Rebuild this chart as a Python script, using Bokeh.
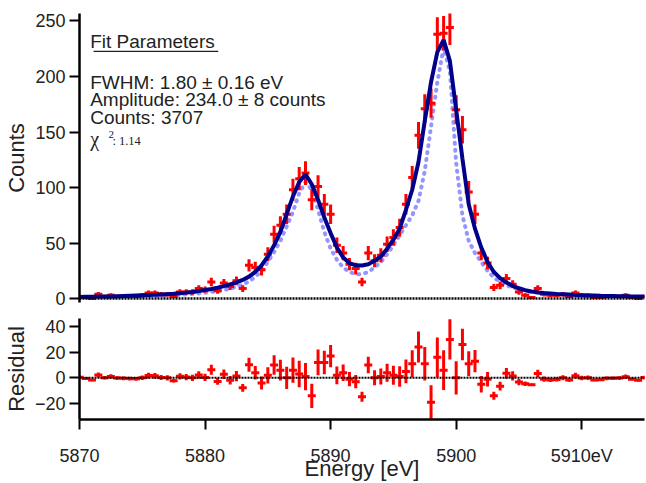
import numpy as np
from bokeh.plotting import figure
from bokeh.models import Range1d, Label, BoxAnnotation, Span, FixedTicker, ColumnDataSource
from bokeh.layouts import column
from bokeh.embed import file_html
from bokeh.resources import INLINE

# ---------------- data ----------------
energy = [5870.0, 5870.5, 5871.0, 5871.5, 5872.0, 5872.5, 5873.0, 5873.5, 5874.0, 5874.5,
          5875.0, 5875.5, 5876.0, 5876.5, 5877.0, 5877.5, 5878.0, 5878.5, 5879.0, 5879.5,
          5880.0, 5880.5, 5881.0, 5881.5, 5882.0, 5882.5, 5883.0, 5883.5, 5884.0, 5884.5,
          5885.0, 5885.5, 5886.0, 5886.5, 5887.0, 5887.5, 5888.0, 5888.5, 5889.0, 5889.5,
          5890.0, 5890.5, 5891.0, 5891.5, 5892.0, 5892.5, 5893.0, 5893.5, 5894.0, 5894.5,
          5895.0, 5895.5, 5896.0, 5896.5, 5897.0, 5897.5, 5898.0, 5898.5, 5899.0, 5899.5,
          5900.0, 5900.5, 5901.0, 5901.5, 5902.0, 5902.5, 5903.0, 5903.5, 5904.0, 5904.5,
          5905.0, 5905.5, 5906.0, 5906.5, 5907.0, 5907.5, 5908.0, 5908.5, 5909.0, 5909.5,
          5910.0, 5910.5, 5911.0, 5911.5, 5912.0, 5912.5, 5913.0, 5913.5, 5914.0, 5914.5,
          5915.0]

counts = [2, 1, 0, 4, 2, 3, 2, 2, 2, 2,
          3, 5, 5, 4, 4, 2, 6, 6, 6, 9,
          8, 15, 7, 14, 11, 16, 9, 30, 28, 26,
          40, 58, 66, 76, 98, 108, 113, 89, 101, 85,
          76, 48, 41, 31, 27, 15, 41, 34, 39, 49,
          55, 64, 85, 109, 147, 171, 176, 238, 239, 244,
          170, 152, 96, 76, 41, 32, 10, 12, 18, 13,
          6, 3, 1, 9, 4, 3, 3, 4, 2, 5,
          3, 3, 1, 1, 2, 2, 2, 3, 1, 0,
          2]

fit = [1.5, 1.6, 1.7, 1.8, 1.9, 2.0, 2.2, 2.4, 2.6, 2.8,
       3.0, 3.2, 3.4, 3.7, 4.0, 4.3, 4.8, 5.4, 6.0, 6.8,
       7.7, 8.7, 9.8, 11.2, 12.8, 14.6, 16.8, 19.8, 24, 30,
       38, 48, 60, 76, 92, 105, 112, 103, 89, 73,
       59, 46, 37, 32, 30, 29.8, 31, 34, 38, 45,
       53, 63, 80, 98, 123, 160, 195, 222, 233, 214,
       170, 126, 85, 63, 46, 33, 24, 18.5, 14.5, 11.5,
       9.3, 7.6, 6.4, 5.6, 5.0, 4.6, 4.2, 3.9, 3.6, 3.3,
       3.1, 2.9, 2.7, 2.5, 2.4, 2.3, 2.2, 2.1, 2.0, 1.9,
       1.8]

natural = [1.0, 1.0, 1.1, 1.2, 1.3, 1.4, 1.5, 1.6, 1.7, 1.8,
           2.0, 2.2, 2.4, 2.6, 2.8, 3.1, 3.4, 3.8, 4.2, 4.7,
           5.3, 6.0, 6.8, 7.8, 9.0, 10.6, 12.6, 15.5, 19.5, 25,
           33, 42, 52, 65, 78, 95, 105, 98, 80, 60,
           45, 35, 28, 24, 22, 22, 24, 28, 33, 40,
           48, 57, 66, 75, 88, 115, 155, 195, 226, 205,
           122, 75, 52, 41, 33, 25, 19, 15, 12, 10,
           8.3, 7.0, 6.0, 5.2, 4.6, 4.1, 3.7, 3.3, 3.0, 2.7,
           2.5, 2.3, 2.1, 2.0, 1.9, 1.8, 1.7, 1.6, 1.5, 1.4,
           1.3]

residual = [0.5, -0.6, -1.7, 2.2, 0.1, 1.0, -0.2, -0.4, -0.6, -0.8,
            0.0, 1.8, 1.6, 0.3, 0.0, -2.3, 1.2, 0.6, 0.0, 2.2,
            0.3, 6.3, -2.8, 2.8, -1.8, 1.4, -7.8, 10.2, 4.0, -4.0,
            2.0, 10.0, 6.0, 0.0, 6.0, 3.0, 1.0, -14.0, 12.0, 12.0,
            17.0, 2.0, 4.0, -1.0, -3.0, -14.8, 10.0, 0.0, 1.0, 4.0,
            2.0, 1.0, 5.0, 11.0, 24.0, 11.0, -19.0, 16.0, 6.0, 30.0,
            0.0, 26.0, 11.0, 13.0, -5.0, -1.0, -14.0, -6.5, 3.5, 1.5,
            -3.3, -4.6, -5.4, 3.4, -1.0, -1.6, -1.2, 0.1, -1.6, 1.7,
            -0.1, 0.1, -1.7, -1.5, -0.4, -0.3, -0.2, 0.9, -1.0, -1.9,
            0.2]

count_ticks = [0, 50, 100, 150, 200, 250]
resid_ticks = [-20, 0, 20, 40]
energy_ticks = [5870, 5880, 5890, 5900, 5910]
energy_tick_labels = {5910: "5910eV"}

# ---------------- styling ----------------
FONT = "Liberation Sans"
RED = "#ff0000"
NAVY = "#00008b"
LIGHT = "#7a7aff"
TXT = "#222222"

c = np.array(counts, dtype=float)
r = np.array(residual, dtype=float)
err = np.sqrt(np.maximum(c, 1.0))
src = ColumnDataSource(dict(e=energy, c=c, lo=c - err, hi=c + err,
                            r=r, rlo=r - err, rhi=r + err,
                            fit=fit, nat=natural))

x_range = Range1d(5870, 5915.0)


def style_common(p):
    p.grid.visible = False
    p.outline_line_color = None
    p.background_fill_color = "white"
    p.border_fill_color = "white"


def style_axis(ax):
    ax.axis_line_width = 2.5
    ax.axis_line_color = "black"
    ax.major_tick_line_width = 2
    ax.major_tick_line_color = "black"
    ax.major_tick_out = 10
    ax.major_tick_in = 0
    ax.minor_tick_out = 0
    ax.minor_tick_in = 0
    ax.minor_tick_line_color = None
    ax.major_label_text_font = FONT
    ax.major_label_text_font_size = "18px"
    ax.major_label_text_color = TXT
    ax.axis_label_text_font = FONT
    ax.axis_label_text_font_size = "22px"
    ax.axis_label_text_font_style = "normal"
    ax.axis_label_text_color = TXT


# ---------------- top panel ----------------
p1 = figure(width=646, height=310, x_range=x_range, y_range=Range1d(-3.5, 256.7),
            output_backend="svg", toolbar_location=None,
            min_border_left=78, min_border_right=2, min_border_top=13, min_border_bottom=8)
style_common(p1)
p1.xaxis.visible = False
style_axis(p1.yaxis[0])
p1.yaxis.ticker = FixedTicker(ticks=count_ticks)
p1.yaxis.axis_label = "Counts"
p1.yaxis.major_label_standoff = 4
p1.yaxis.axis_label_standoff = 3

p1.add_layout(Span(location=0, dimension="width", line_color="black",
                   line_dash="2 1", line_width=2.5))
p1.line("e", "nat", source=src, line_color=LIGHT, line_width=4,
        line_dash="1 6", line_cap="round", line_alpha=0.8)
p1.segment(x0="e", y0="lo", x1="e", y1="hi", source=src, line_color=RED, line_width=3)
p1.scatter("e", "c", source=src, marker="dash", size=8, line_color=RED, line_width=3)
p1.line("e", "fit", source=src, line_color=NAVY, line_width=4)

TX = 5870.85
p1.add_layout(Label(x=TX, y=231.3, text="Fit Parameters", text_font=FONT,
                    text_font_size="19px", text_color=TXT, text_baseline="middle"))
p1.add_layout(BoxAnnotation(left=5871.12, right=5881.05, bottom=222.0, top=223.2,
                            fill_color=TXT, fill_alpha=1.0, line_color=None))
p1.add_layout(Label(x=TX, y=194.3, text="FWHM: 1.80 ± 0.16 eV", text_font=FONT,
                    text_font_size="19px", text_color=TXT, text_baseline="middle"))
p1.add_layout(Label(x=TX, y=179.1, text="Amplitude: 234.0 ± 8 counts", text_font=FONT,
                    text_font_size="19px", text_color=TXT, text_baseline="middle"))
p1.add_layout(Label(x=TX, y=163.5, text="Counts: 3707", text_font=FONT,
                    text_font_size="19px", text_color=TXT, text_baseline="middle"))
p1.add_layout(Label(x=TX, y=143.5, text="χ", text_font="Liberation Serif",
                    text_font_size="20px", text_color=TXT, text_baseline="middle"))
p1.add_layout(Label(x=5872.3, y=147.5, text="2", text_font="Liberation Serif",
                    text_font_size="11px", text_color=TXT, text_baseline="middle"))
p1.add_layout(Label(x=5872.62, y=141.5, text=": 1.14", text_font="Liberation Serif",
                    text_font_size="12.5px", text_color=TXT, text_baseline="middle"))

# ---------------- residual panel ----------------
p2 = figure(width=646, height=173, x_range=x_range, y_range=Range1d(-32.5, 46.3),
            output_backend="svg", toolbar_location=None,
            min_border_left=78, min_border_right=2, min_border_top=8, min_border_bottom=60)
style_common(p2)
style_axis(p2.yaxis[0])
style_axis(p2.xaxis[0])
p2.yaxis.ticker = FixedTicker(ticks=resid_ticks)
p2.yaxis.axis_label = "Residual"
p2.yaxis.major_label_standoff = 4
p2.yaxis.axis_label_standoff = 3
p2.xaxis.ticker = FixedTicker(ticks=energy_ticks)
p2.xaxis.major_label_overrides = energy_tick_labels
p2.xaxis.axis_label = "Energy [eV]"
p2.xaxis.major_tick_out = 10
p2.xaxis.major_label_standoff = 16
p2.xaxis.axis_label_standoff = -13

p2.add_layout(Span(location=0, dimension="width", line_color="black",
                   line_dash="2 1", line_width=2))
p2.segment(x0="e", y0="rlo", x1="e", y1="rhi", source=src, line_color=RED, line_width=3)
p2.scatter("e", "r", source=src, marker="dash", size=8, line_color=RED, line_width=3)

layout = column(p1, p2, spacing=0)
open("out.html", "w").write(file_html(layout, INLINE))
